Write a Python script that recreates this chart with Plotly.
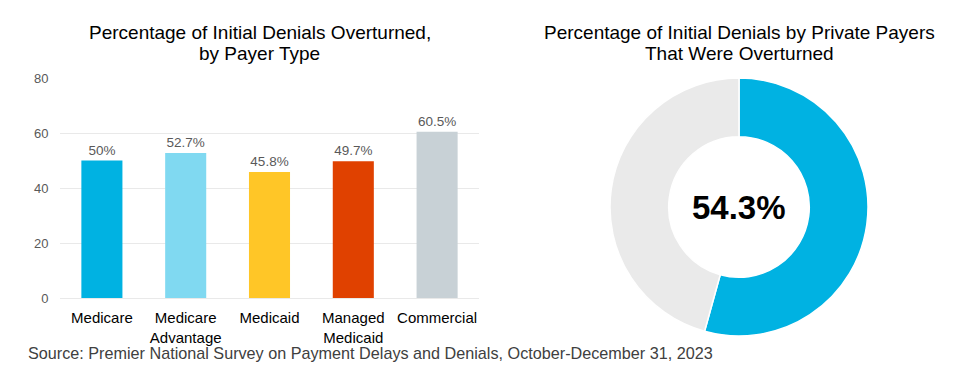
import plotly.graph_objects as go

W, H = 961, 379
OFFSET = 8  # page body margin in the browser

categories = ["Medicare", "Medicare<br>Advantage", "Medicaid", "Managed<br>Medicaid", "Commercial"]
values = [50, 52.7, 45.8, 49.7, 60.5]
value_labels = ["50%", "52.7%", "45.8%", "49.7%", "60.5%"]
bar_colors = ["#00B2E2", "#80D9F1", "#FFC627", "#E04100", "#C8D1D6"]
y_ticks = [0, 20, 40, 60, 80]

donut_labels = ["Overturned", "Not overturned"]
donut_values = [54.3, 45.7]
donut_colors = ["#00B2E2", "#EAEAEA"]
donut_center_text = "54.3%"

left_title = ["Percentage of Initial Denials Overturned,", "by Payer Type"]
right_title = ["Percentage of Initial Denials by Private Payers", "That Were Overturned"]
source_text = "Source: Premier National Survey on Payment Delays and Denials, October-December 31, 2023"

FONT = "Arial, 'Liberation Sans', sans-serif"

def px_x(p):
    return (p - OFFSET) / W

def px_y(p):
    return 1 - (p - OFFSET) / H

fig = go.Figure()

fig.add_trace(go.Bar(
    x=categories, y=values,
    marker=dict(color=bar_colors, line=dict(width=0)),
    text=value_labels, textposition="outside",
    textfont=dict(family=FONT, size=13.5, color="#595959"),
    cliponaxis=False,
    showlegend=False,
    xaxis="x", yaxis="y",
))

fig.add_trace(go.Pie(
    labels=donut_labels, values=donut_values,
    marker=dict(colors=donut_colors, line=dict(color="white", width=1.5)),
    hole=0.545, sort=False, direction="clockwise", rotation=0,
    textinfo="none", showlegend=False,
    domain=dict(x=[px_x(610), px_x(868)], y=[px_y(336), px_y(78)]),
))

annotations = []
for i, line in enumerate(left_title):
    annotations.append(dict(
        text=line, x=px_x(259.5), y=px_y([32.5, 53][i]), xref="paper", yref="paper",
        xanchor="center", yanchor="middle", showarrow=False,
        font=dict(family=FONT, size=19, color="#000000"),
    ))
for i, line in enumerate(right_title):
    annotations.append(dict(
        text=line, x=px_x(739), y=px_y([32.5, 53][i]), xref="paper", yref="paper",
        xanchor="center", yanchor="middle", showarrow=False,
        font=dict(family=FONT, size=19, color="#000000"),
    ))
annotations.append(dict(
    text=donut_center_text, x=px_x(739), y=px_y(207), xref="paper", yref="paper",
    xanchor="center", yanchor="middle", showarrow=False,
    font=dict(family=FONT, size=33, color="#000000", weight="bold"),
))
annotations.append(dict(
    text=source_text, x=px_x(26), y=px_y(353), xref="paper", yref="paper",
    xanchor="left", yanchor="middle", showarrow=False,
    font=dict(family=FONT, size=16.2, color="#404040"),
))

fig.update_layout(
    width=W, height=H,
    margin=dict(l=0, r=0, t=0, b=0, pad=0, autoexpand=False),
    paper_bgcolor="white", plot_bgcolor="white",
    bargap=0.51,
    xaxis=dict(
        domain=[px_x(60), px_x(479)],
        showgrid=False, zeroline=False, showline=False, automargin=False,
        tickfont=dict(family=FONT, size=15, color="#000000"),
        ticks="outside", ticklen=6, tickcolor="rgba(0,0,0,0)",
    ),
    yaxis=dict(
        domain=[px_y(298), px_y(78)],
        range=[0, 80], tickvals=y_ticks, automargin=False,
        showgrid=True, gridcolor="#E9E9E9", gridwidth=1,
        zeroline=True, zerolinecolor="#E9E9E9", zerolinewidth=1,
        showline=False,
        tickfont=dict(family=FONT, size=13, color="#595959"),
        ticks="outside", ticklen=8, tickcolor="rgba(0,0,0,0)",
    ),
    annotations=annotations,
)

fig.write_html("out.html")
